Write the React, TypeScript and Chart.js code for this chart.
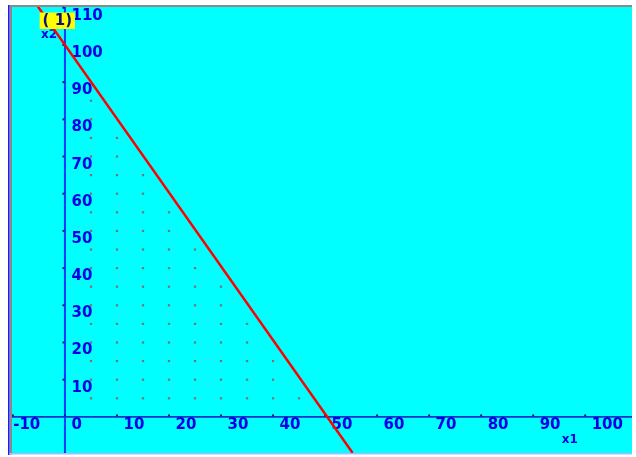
import React, { useEffect, useRef } from "react";
import { Chart, registerables } from "chart.js";

Chart.register(...registerables);

// Tick labels
const xTicks = [-10, 0, 10, 20, 30, 40, 50, 60, 70, 80, 90, 100];
const yTicks = [10, 20, 30, 40, 50, 60, 70, 80, 90, 100, 110];

// Constraint (1) line, end points
const constraintX = [-5.2, 55.3];
const constraintY = [110.3, -9.7];
const constraintLabel = "( 1)";

// Feasible integer grid points (step 5)
const feasiblePoints: [number, number][] = [
  [5, 5], [10, 5], [15, 5], [20, 5], [25, 5], [30, 5], [35, 5], [40, 5], [45, 5],
  [5, 10], [10, 10], [15, 10], [20, 10], [25, 10], [30, 10], [35, 10], [40, 10],
  [5, 15], [10, 15], [15, 15], [20, 15], [25, 15], [30, 15], [35, 15], [40, 15],
  [5, 20], [10, 20], [15, 20], [20, 20], [25, 20], [30, 20], [35, 20],
  [5, 25], [10, 25], [15, 25], [20, 25], [25, 25], [30, 25], [35, 25],
  [5, 30], [10, 30], [15, 30], [20, 30], [25, 30], [30, 30],
  [5, 35], [10, 35], [15, 35], [20, 35], [25, 35], [30, 35],
  [5, 40], [10, 40], [15, 40], [20, 40], [25, 40],
  [5, 45], [10, 45], [15, 45], [20, 45], [25, 45],
  [5, 50], [10, 50], [15, 50], [20, 50],
  [5, 55], [10, 55], [15, 55], [20, 55],
  [5, 60], [10, 60], [15, 60],
  [5, 65], [10, 65], [15, 65],
  [5, 70], [10, 70],
  [5, 75], [10, 75],
  [5, 80],
  [5, 85],
];

const xAxisTitle = "x1";
const yAxisTitle = "x2";

const X_MIN = -10.18;
const X_MAX = 109.0;
const Y_MIN = -9.71;
const Y_MAX = 110.2;

const TICK_FONT = 'bold 15px "DejaVu Sans"';
const TITLE_FONT = 'bold 12px "DejaVu Sans"';
const LABEL_FONT = 'bold 15px "DejaVu Sans"';
const AXIS_BLUE = "#0000e6";

const decorPlugin = {
  id: "decor",
  beforeDraw(chart: any) {
    const { ctx, chartArea: a, width, height } = chart;
    ctx.save();
    ctx.fillStyle = "#ffffff";
    ctx.fillRect(0, 0, width, height);
    ctx.fillStyle = "#00ffff";
    ctx.fillRect(a.left, a.top, a.right - a.left, a.bottom - a.top);
    // frame
    ctx.fillStyle = "#8a8a8a";
    ctx.fillRect(a.left - 2.5, a.top - 2, a.right - a.left + 2.5, 2);
    ctx.fillRect(a.left - 2.5, a.top - 2, 2.5, a.bottom - a.top + 3.5);
    ctx.fillStyle = "#1a1aff";
    ctx.fillRect(a.left - 4, a.top - 2, 1.5, a.bottom - a.top + 4);
    ctx.fillStyle = "#b4b4ff";
    ctx.fillRect(a.left - 2.5, a.bottom, a.right - a.left + 2.5, 1.5);
    ctx.restore();
  },
  beforeDatasetsDraw(chart: any) {
    const { ctx, chartArea: a, scales } = chart;
    const xs = scales.x;
    const ys = scales.y;
    const x0 = xs.getPixelForValue(0);
    const y0 = ys.getPixelForValue(0);
    ctx.save();
    // x axis
    ctx.fillStyle = "#1414c0";
    ctx.fillRect(a.left, y0 - 0.75, a.right - a.left, 1.5);
    // y axis
    ctx.fillStyle = "#0a3cff";
    ctx.fillRect(x0 - 1, a.top, 2, a.bottom - a.top);

    ctx.font = TICK_FONT;
    ctx.fillStyle = AXIS_BLUE;
    ctx.textAlign = "left";
    ctx.textBaseline = "alphabetic";
    const minusW = ctx.measureText("-").width;
    xTicks.forEach((v) => {
      const px = xs.getPixelForValue(v);
      ctx.fillStyle = "#101090";
      ctx.fillRect(px - 1, y0 - 2.5, 2, 2);
      ctx.fillStyle = AXIS_BLUE;
      const shift = v < 0 ? minusW : 0;
      ctx.fillText(String(v), px + 6.5 - shift, y0 + 12);
    });
    yTicks.forEach((v) => {
      const py = ys.getPixelForValue(v);
      ctx.fillStyle = "#101090";
      ctx.fillRect(x0 - 2.5, py - 1, 2, 2);
      ctx.fillStyle = AXIS_BLUE;
      ctx.fillText(String(v), x0 + 6.5, py + 12);
    });

    ctx.font = TITLE_FONT;
    ctx.fillStyle = AXIS_BLUE;
    ctx.fillText(xAxisTitle, xs.getPixelForValue(100) - 23.5, y0 + 26.5);
    ctx.fillText(yAxisTitle, x0 - 24, ys.getPixelForValue(100) - 6.5);
    ctx.restore();
  },
  afterDatasetsDraw(chart: any) {
    const { ctx, chartArea: a, scales } = chart;
    const x0 = scales.x.getPixelForValue(0);
    ctx.save();
    const bx = x0 - 25.3;
    const by = a.top + 5.5;
    const bw = 35.3;
    const bh = 16.5;
    ctx.fillStyle = "#ffff00";
    ctx.fillRect(bx, by, bw, bh);
    ctx.font = LABEL_FONT;
    ctx.fillStyle = "#10107a";
    ctx.textAlign = "center";
    ctx.textBaseline = "middle";
    ctx.fillText(constraintLabel, bx + bw / 2, by + bh / 2 + 0.5);
    ctx.restore();
  },
};

export default function App() {
  const canvasRef = useRef<HTMLCanvasElement | null>(null);

  useEffect(() => {
    const canvas = canvasRef.current;
    if (!canvas) return;
    const chart = new Chart(canvas, {
      type: "scatter",
      data: {
        datasets: [
          {
            type: "line",
            data: constraintX.map((x, i) => ({ x, y: constraintY[i] })),
            borderColor: "#ff0000",
            borderWidth: 2.5,
            pointRadius: 0,
            fill: false,
            tension: 0,
          } as any,
          {
            type: "scatter",
            data: feasiblePoints.map(([x, y]) => ({ x, y })),
            pointStyle: "rect",
            pointRadius: 1.6,
            pointBorderWidth: 0,
            backgroundColor: "#767676",
            borderWidth: 0,
          } as any,
        ],
      },
      options: {
        animation: false,
        responsive: false,
        devicePixelRatio: 1,
        events: [],
        layout: { padding: { left: 12, top: 7, right: 0, bottom: 3 } },
        plugins: {
          legend: { display: false },
          tooltip: { enabled: false },
          title: { display: false },
        },
        scales: {
          x: { type: "linear", min: X_MIN, max: X_MAX, display: false },
          y: { type: "linear", min: Y_MIN, max: Y_MAX, display: false },
        },
      },
      plugins: [decorPlugin],
    });
    return () => chart.destroy();
  }, []);

  return (
    <div style={{ position: "fixed", left: 0, top: 0, width: 636, height: 457 }}>
      <canvas ref={canvasRef} width={636} height={457} style={{ display: "block", width: 636, height: 457 }} />
    </div>
  );
}
